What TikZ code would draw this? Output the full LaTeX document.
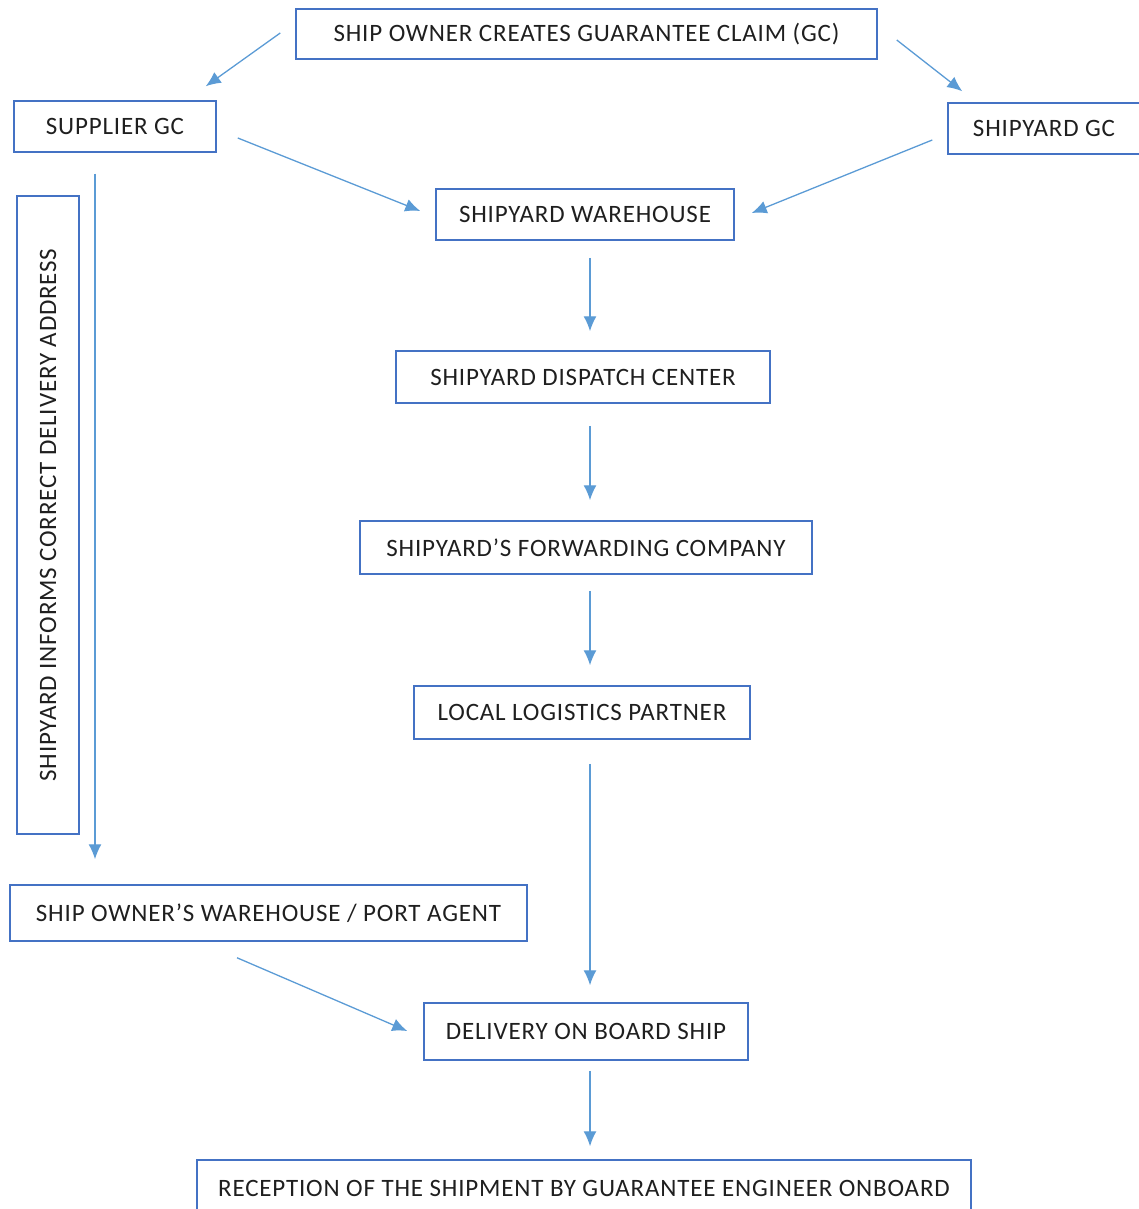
\documentclass[tikz,border=0pt]{standalone}
\usepackage{fontspec}
\setmainfont{Carlito}[LetterSpace=3.3]
\usetikzlibrary{positioning,calc,arrows.meta}
\definecolor{boxblue}{HTML}{4472C4}
\definecolor{linkblue}{HTML}{5B9BD5}
\tikzstyle{box} = [draw=boxblue, line width=1.5pt, inner sep=0pt,
text=black!88, font=\fontsize{25}{29}\selectfont]
\tikzstyle{line} = [draw=linkblue, line width=1.3pt, -{Latex[length=15pt,width=13pt]}]

\begin{document}
\begin{tikzpicture}[x=1pt, y=-1pt]
      \useasboundingbox (0,0) rectangle (1138,1209);
      \node [box, minimum width=581pt, minimum height=50pt] (claim) at (586.5,34) {SHIP OWNER CREATES GUARANTEE CLAIM (GC)};
      \node [box, minimum width=202pt, minimum height=51pt] (supplier) at (115,126.5) {SUPPLIER GC};
      \node [box, minimum width=192pt, minimum height=51pt] (yardgc) at (1044,128.5) {SHIPYARD GC};
      \node [box, minimum width=298pt, minimum height=51pt] (warehouse) at (585,214.5) {SHIPYARD WAREHOUSE};
      \node [box, minimum width=374pt, minimum height=52pt] (dispatch) at (583,377) {SHIPYARD DISPATCH CENTER};
      \node [box, minimum width=452pt, minimum height=53pt] (forwarding) at (586,547.5) {SHIPYARD’S FORWARDING COMPANY};
      \node [box, minimum width=336pt, minimum height=53pt] (logistics) at (582,712.5) {LOCAL LOGISTICS PARTNER};
      \node [box, rotate=90, minimum width=638pt, minimum height=62pt] (informs) at (48,515) {SHIPYARD INFORMS CORRECT DELIVERY ADDRESS};
      \node [box, minimum width=517pt, minimum height=56pt] (ownerwh) at (268.5,913) {SHIP OWNER’S WAREHOUSE / PORT AGENT};
      \node [box, minimum width=324pt, minimum height=57pt] (onboard) at (586,1031.5) {DELIVERY ON BOARD SHIP};
      \node [box, minimum width=774pt, minimum height=56pt] (reception) at (584,1188) {RECEPTION OF THE SHIPMENT BY GUARANTEE ENGINEER ONBOARD};
      %% Flows
      \path [line] ($(claim.west)+(-15,-1)$) -- ($(supplier.north east)+(-11,-14)$);
      \path [line] ($(claim.east)+(19,6)$) -- ($(yardgc.north west)+(15,-11)$);
      \path [line] ($(supplier.east)+(21,11.5)$) -- ($(warehouse.west)+(-15,-3.5)$);
      \path [line] ($(yardgc.west)+(-15,11.5)$) -- ($(warehouse.east)+(17,-1.5)$);
      \path [line] ($(warehouse.south)+(5,17)$) -- ($(dispatch.north)+(7,-19)$);
      \path [line] ($(dispatch.south)+(7,22)$) -- ($(forwarding.north)+(4,-20)$);
      \path [line] ($(forwarding.south)+(4,16)$) -- ($(logistics.north)+(8,-20)$);
      \path [line] ($(logistics.south)+(8,24)$) -- ($(onboard.north)+(4,-17)$);
      \path [line] ($(supplier.south)+(-20,21)$) -- ($(ownerwh.north)+(-173.5,-25)$);
      \path [line] ($(ownerwh.south)+(-31.5,16)$) -- ($(onboard.west)+(-16,-0.5)$);
      \path [line] ($(onboard.south)+(4,10)$) -- ($(reception.north)+(6,-13)$);
\end{tikzpicture}
\end{document}
